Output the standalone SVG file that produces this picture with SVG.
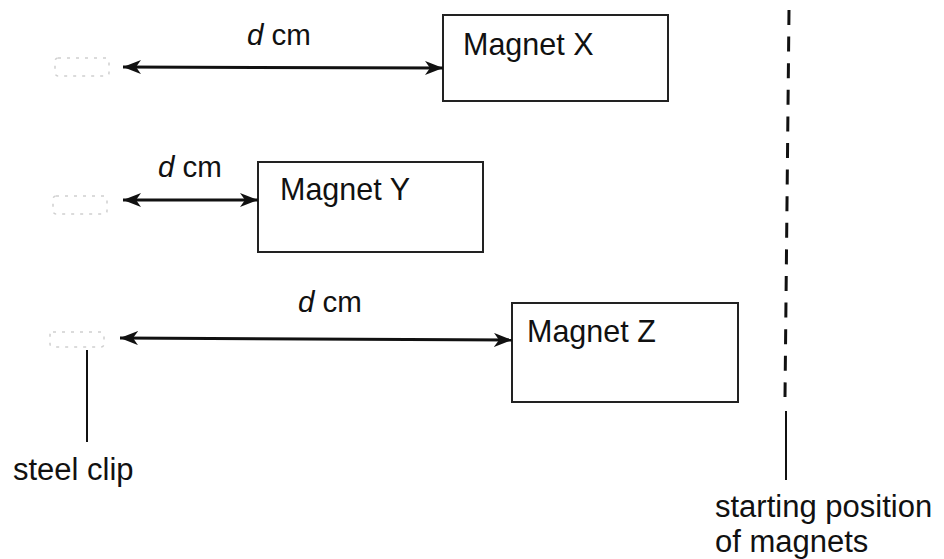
<svg xmlns="http://www.w3.org/2000/svg" width="944" height="559" viewBox="0 0 944 559">
<style>
text{font-family:"Liberation Sans",Arial,sans-serif;fill:#111}
.lbl{font-size:30.5px}
.dl{font-size:29.5px}
.big{font-size:31px}
.box{fill:#fff;stroke:#222;stroke-width:2}
.conn{stroke:#111;stroke-width:3;fill:none}
.clip{fill:none;stroke:#cfcfcf;stroke-width:1.5;stroke-dasharray:3 6}
</style>
<defs>
<marker id="ah" viewBox="0 0 18 14" refX="18" refY="7" markerWidth="18" markerHeight="14" markerUnits="userSpaceOnUse" orient="auto-start-reverse">
<path d="M0,0 L18,7 L0,14 L5,7 Z" fill="#111"/>
</marker>
</defs>
<rect width="944" height="559" fill="#fff"/>

<g id="clip-x"><rect class="clip" x="55" y="58" width="54" height="18" rx="3"/></g>
<g id="clip-y"><rect class="clip" x="53" y="196" width="54" height="18" rx="3"/></g>
<g id="clip-z"><rect class="clip" x="50" y="332" width="54" height="15" rx="3"/></g>

<g id="magnet-x">
<rect class="box" x="443" y="15" width="225" height="86"/>
<text class="lbl" x="463" y="55">Magnet X</text>
</g>
<g id="magnet-y">
<rect class="box" x="258" y="162" width="225" height="90"/>
<text class="lbl" x="280" y="200">Magnet Y</text>
</g>
<g id="magnet-z">
<rect class="box" x="512" y="303" width="226" height="99"/>
<text class="lbl" x="527" y="342">Magnet Z</text>
</g>

<g id="connectors">
<line class="conn" x1="123" y1="67" x2="443" y2="68" marker-start="url(#ah)" marker-end="url(#ah)"/>
<line class="conn" x1="123" y1="200" x2="258" y2="200" marker-start="url(#ah)" marker-end="url(#ah)"/>
<line class="conn" x1="120" y1="338" x2="512" y2="340" marker-start="url(#ah)" marker-end="url(#ah)"/>
<line x1="87" y1="350" x2="87" y2="442" stroke="#111" stroke-width="2"/>
<line x1="789" y1="10" x2="785" y2="397" stroke="#111" stroke-width="3" stroke-dasharray="15 11.6"/>
<line x1="786" y1="411" x2="786" y2="480" stroke="#111" stroke-width="2"/>
</g>

<g id="labels">
<text class="dl" x="247" y="45"><tspan font-style="italic">d</tspan> cm</text>
<text class="dl" x="158" y="177"><tspan font-style="italic">d</tspan> cm</text>
<text class="dl" x="298" y="312"><tspan font-style="italic">d</tspan> cm</text>
<text class="big" x="13" y="480">steel clip</text>
<text class="big" x="715" y="517">starting position</text>
<text class="big" x="715" y="552">of magnets</text>
</g>
</svg>
